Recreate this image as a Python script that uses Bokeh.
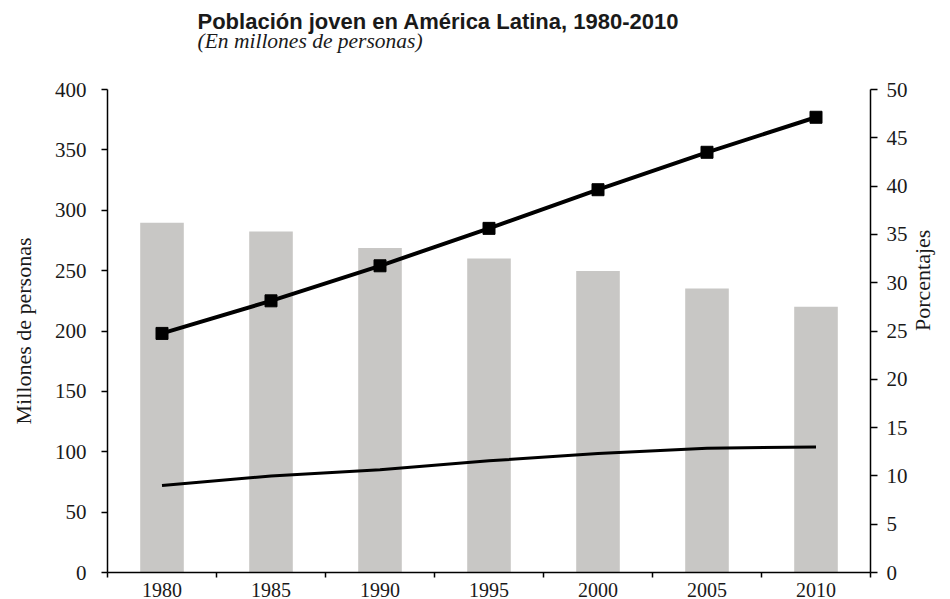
import math
from bokeh.plotting import figure
from bokeh.models import Range1d, LinearAxis, FixedTicker, Title
from bokeh.embed import file_html
from bokeh.resources import INLINE

# ---- data ----
years = [1980, 1985, 1990, 1995, 2000, 2005, 2010]
pct_bars = [36.2, 35.3, 33.6, 32.5, 31.2, 29.4, 27.5]       # right axis (Porcentajes)
upper_series = [198, 225, 254, 285, 317, 348, 377]          # left axis, with markers
lower_series = [72, 80, 85, 92.5, 98.5, 103, 104]           # left axis
left_ticks = [0, 50, 100, 150, 200, 250, 300, 350, 400]
right_ticks = [0, 5, 10, 15, 20, 25, 30, 35, 40, 45, 50]
category_edges = [1977.5, 1982.5, 1987.5, 1992.5, 1997.5, 2002.5, 2007.5, 2012.5]
title_text = "Población joven en América Latina, 1980-2010"
subtitle_text = "(En millones de personas)"

TXT = "#1a1a1a"
SERIF = "Liberation Serif"

p = figure(width=950, height=599, output_backend="svg", toolbar_location=None,
           title_location=None,
           x_range=Range1d(1977.5, 2012.5), y_range=Range1d(0, 400),
           min_border_left=107, min_border_right=77, min_border_top=89,
           min_border_bottom=27)
p.extra_y_ranges = {"pct": Range1d(0, 50)}
p.xgrid.visible = False
p.ygrid.visible = False
p.outline_line_color = None
p.background_fill_color = "white"
p.border_fill_color = "white"

# titles: spacer (closest to the frame), subtitle, title
p.add_layout(Title(text=" ", text_font_size="1px", standoff=34), "above")
p.add_layout(Title(text=subtitle_text, align="left", offset=90,
                   text_font=SERIF, text_font_style="italic", text_font_size="21.5px",
                   text_color=TXT, standoff=0), "above")
p.add_layout(Title(text=title_text, align="left", offset=90,
                   text_font="Liberation Sans", text_font_style="bold", text_font_size="22px",
                   text_color=TXT, standoff=-14), "above")

# bars
p.vbar(x=years, top=pct_bars, width=2.0, y_range_name="pct",
       fill_color="#c8c7c5", line_color=None)

# lines
p.line(years, lower_series, line_width=3, line_color="black")
p.line(years, upper_series, line_width=4, line_color="black")
p.scatter(years, upper_series, marker="square", size=12, fill_color="black", line_color="black")

# x axis
xa = p.xaxis[0]
xa.ticker = FixedTicker(ticks=years, minor_ticks=category_edges)
xa.major_tick_out = 0
xa.major_tick_in = 0
xa.minor_tick_out = 5
xa.minor_tick_in = 0
xa.minor_tick_line_color = "black"
xa.minor_tick_line_width = 1.5
xa.axis_line_color = "black"
xa.axis_line_width = 1.5
xa.major_label_standoff = 5
xa.major_label_text_font = SERIF
xa.major_label_text_font_size = "20px"
xa.major_label_text_color = TXT

# left axis
ya = p.yaxis[0]
ya.ticker = FixedTicker(ticks=left_ticks, minor_ticks=[])
ya.major_tick_out = 6
ya.major_tick_in = 0
ya.major_tick_line_color = "black"
ya.major_tick_line_width = 1.5
ya.axis_line_color = "black"
ya.axis_line_width = 1.5
ya.major_label_standoff = 15
ya.major_label_text_font = SERIF
ya.major_label_text_font_size = "21px"
ya.major_label_text_color = TXT
ya.axis_label = "Millones de personas"
ya.axis_label_text_font = SERIF
ya.axis_label_text_font_style = "normal"
ya.axis_label_text_font_size = "22px"
ya.axis_label_text_color = TXT
ya.axis_label_standoff = 16

# right axis
ra = LinearAxis(y_range_name="pct", ticker=FixedTicker(ticks=right_ticks, minor_ticks=[]))
ra.major_tick_out = 7
ra.major_tick_in = 0
ra.major_tick_line_color = "black"
ra.major_tick_line_width = 1.5
ra.axis_line_color = "black"
ra.axis_line_width = 1.5
ra.major_label_standoff = 9
ra.major_label_text_font = SERIF
ra.major_label_text_font_size = "21px"
ra.major_label_text_color = TXT
ra.axis_label = "Porcentajes"
ra.axis_label_orientation = math.pi / 2
ra.axis_label_text_font = SERIF
ra.axis_label_text_font_style = "normal"
ra.axis_label_text_font_size = "22px"
ra.axis_label_text_color = TXT
ra.axis_label_text_baseline = "top"
ra.axis_label_standoff = 12
p.add_layout(ra, "right")

open("out.html", "w").write(file_html(p, INLINE))
